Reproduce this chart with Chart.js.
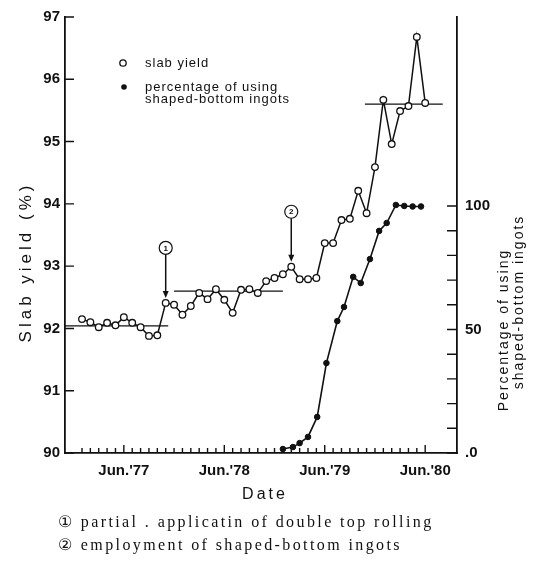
<!DOCTYPE html>
<html><head><meta charset="utf-8">
<script src="https://cdn.jsdelivr.net/npm/chart.js@4"></script>
<style>
html,body{margin:0;padding:0;background:#fff;}
#wrap{position:relative;width:544px;height:568px;overflow:hidden;}
canvas{position:absolute;left:0;top:0;}
.note{position:absolute;left:58px;font-family:'Liberation Serif','DejaVu Serif',serif;font-size:16px;letter-spacing:2.4px;color:#111;white-space:nowrap;}
</style></head><body>
<div id="wrap"><canvas id="c" width="544" height="568"></canvas>
<div class="note" style="top:512px">① partial . applicatin of double top rolling</div>
<div class="note" style="top:535px">② employment of shaped-bottom ingots</div>
</div>
<script>
// months counted from Jan 1977 (0) to Jun 1980 (41)
const monthIdx = [0,1,2,3,4,5,6,7,8,9,10,11,12,13,14,15,16,17,18,19,20,21,22,23,24,25,26,27,28,29,30,31,32,33,34,35,36,37,38,39,40,41];
const slabYield = [92.15,92.10,92.02,92.09,92.05,92.18,92.09,92.02,91.88,91.89,
                   92.41,92.38,92.22,92.36,92.57,92.47,92.63,92.46,92.25,92.62,
                   92.63,92.57,92.76,92.81,92.87,92.99,92.79,92.79,92.81,93.37,
                   93.37,93.74,93.76,94.21,93.85,94.59,95.67,94.96,95.49,95.57,
                   96.68,95.62];
const pctMonth = [24.0,25.2,26.0,27.0,28.1,29.2,30.5,31.3,32.4,33.3,34.4,35.5,36.4,37.5,38.5,39.5,40.5];
const pctShaped = [1.6,2.4,4.0,6.5,14.6,36.4,53.4,59.1,71.3,68.8,78.5,89.9,93.1,100.4,100.0,99.8,99.8];
const avgFrom = [-2.03, 11.0, 33.8];
const avgTo = [10.3, 24.0, 43.1];
const avgLevel = [92.04, 92.60, 95.60];
const junMonths = [5,17,29,41];
const junLabels = ["Jun.'77","Jun.'78","Jun.'79","Jun.'80"];
const yieldTicks = [90,91,92,93,94,95,96,97];
const pctTicks = [0,10,20,30,40,50,60,70,80,90,100];
const pctTickLabels = {0:'.0',50:'50',100:'100'};
const annoIndex = [10,25];
const annoText = ['1','2'];

const INK = '#111';
const tickFont = {family:"'Liberation Sans', Arial, sans-serif", size:15, weight:'bold'};

const datasets = [
  {label:'slab yield', data: monthIdx.map((m,i)=>({x:m,y:slabYield[i]})), yAxisID:'y',
   borderColor:INK, borderWidth:1.5, pointRadius:3.3, pointBackgroundColor:'#fff',
   pointBorderColor:INK, pointBorderWidth:1.3, tension:0, order:1},
  {label:'percentage of using shaped-bottom ingots', data: pctMonth.map((m,i)=>({x:m,y:pctShaped[i]})), yAxisID:'y2',
   borderColor:INK, borderWidth:1.6, pointRadius:2.8, pointBackgroundColor:INK,
   pointBorderColor:INK, pointBorderWidth:1, tension:0, order:1}
];
avgLevel.forEach((lv,i)=>{
  datasets.push({label:'avg'+i, data:[{x:avgFrom[i],y:lv},{x:avgTo[i],y:lv}], yAxisID:'y',
    borderColor:INK, borderWidth:1.3, pointRadius:0, order:3});
});

const decor = {
  id:'decor',
  afterDraw(chart){
    const ctx = chart.ctx, ca = chart.chartArea;
    const sx = chart.scales.x, sy = chart.scales.y, sy2 = chart.scales.y2;
    ctx.save();
    ctx.strokeStyle = INK; ctx.fillStyle = INK; ctx.lineWidth = 1.4;
    // inward ticks
    ctx.beginPath();
    monthIdx.forEach(m=>{
      const px = sx.getPixelForValue(m);
      const len = junMonths.includes(m) ? 8 : 5;
      ctx.moveTo(px, ca.bottom); ctx.lineTo(px, ca.bottom-len);
    });
    yieldTicks.forEach(v=>{
      const py = sy.getPixelForValue(v);
      ctx.moveTo(ca.left, py); ctx.lineTo(ca.left+9, py);
    });
    pctTicks.forEach(v=>{
      const py = sy2.getPixelForValue(v);
      ctx.moveTo(ca.right, py); ctx.lineTo(ca.right-10, py);
    });
    ctx.stroke();

    // axis titles
    ctx.textAlign='center'; ctx.textBaseline='middle';
    ctx.font = "17px 'Liberation Sans', Arial, sans-serif";
    ctx.letterSpacing = '4px';
    ctx.save(); ctx.translate(26,262); ctx.rotate(-Math.PI/2); ctx.fillText('Slab yield (%)',0,0); ctx.restore();
    ctx.font = "16px 'Liberation Sans', Arial, sans-serif";
    ctx.letterSpacing = '3px';
    ctx.fillText('Date', 265, 495);
    ctx.font = "14px 'Liberation Sans', Arial, sans-serif";
    ctx.letterSpacing = '2px';
    ctx.save(); ctx.translate(504,330); ctx.rotate(-Math.PI/2); ctx.fillText('Percentage of using',0,0); ctx.restore();
    ctx.save(); ctx.translate(519,302); ctx.rotate(-Math.PI/2); ctx.fillText('shaped-bottom ingots',0,0); ctx.restore();

    // legend
    ctx.letterSpacing = '1px';
    ctx.textAlign='left';
    ctx.font = "13px 'Liberation Sans', Arial, sans-serif";
    ctx.lineWidth = 1.3;
    ctx.beginPath(); ctx.arc(123,63,3.2,0,Math.PI*2); ctx.fillStyle='#fff'; ctx.fill(); ctx.stroke();
    ctx.fillStyle = INK;
    ctx.fillText('slab yield', 145, 63);
    ctx.beginPath(); ctx.arc(124,87,2.8,0,Math.PI*2); ctx.fill();
    ctx.fillText('percentage of using', 145, 87);
    ctx.fillText('shaped-bottom ingots', 145, 99);

    // annotations
    ctx.letterSpacing = '0px';
    annoIndex.forEach((idx,i)=>{
      const px = sx.getPixelForValue(monthIdx[idx]);
      const py = sy.getPixelForValue(slabYield[idx]);
      const cy = py - 55;
      ctx.lineWidth = 1.2;
      ctx.beginPath(); ctx.arc(px, cy, 6.5, 0, Math.PI*2); ctx.stroke();
      ctx.font = "bold 8px 'Liberation Sans', Arial, sans-serif";
      ctx.textAlign='center';
      ctx.fillText(annoText[i], px, cy+0.5);
      ctx.lineWidth = 1.5;
      ctx.beginPath(); ctx.moveTo(px, cy+6.5); ctx.lineTo(px, py-8); ctx.stroke();
      ctx.beginPath(); ctx.moveTo(px-3, py-12); ctx.lineTo(px+3, py-12); ctx.lineTo(px, py-5); ctx.closePath(); ctx.fill();
    });
    ctx.restore();
  }
};

new Chart(document.getElementById('c'), {
  type:'line',
  data:{datasets},
  options:{
    responsive:false, animation:false, devicePixelRatio:1,
    layout:{padding:{top:17,left:0,right:0,bottom:0}},
    plugins:{legend:{display:false}, tooltip:{enabled:false}},
    scales:{
      x:{type:'linear', position:'bottom', min:-2.03, max:44.8,
        afterBuildTicks:s=>{s.ticks = monthIdx.map(v=>({value:v}));},
        afterFit:s=>{s.height=115;},
        ticks:{autoSkip:false, maxRotation:0, padding:9, color:INK, font:tickFont,
          callback:v=>{const k=junMonths.indexOf(v); return k>=0?junLabels[k]:'';}},
        grid:{drawOnChartArea:false, drawTicks:false},
        border:{display:true, color:INK, width:1.8}},
      y:{type:'linear', position:'left', min:90, max:97,
        afterBuildTicks:s=>{s.ticks = yieldTicks.map(v=>({value:v}));},
        afterFit:s=>{s.width=65;},
        ticks:{padding:5, color:INK, font:tickFont},
        grid:{drawOnChartArea:false, drawTicks:false},
        border:{display:true, color:INK, width:1.8}},
      y2:{type:'linear', position:'right', min:0, max:176.5,
        afterBuildTicks:s=>{s.ticks = pctTicks.map(v=>({value:v}));},
        afterFit:s=>{s.width=87;},
        ticks:{padding:8, color:INK, font:tickFont, callback:v=>pctTickLabels[v]!==undefined?pctTickLabels[v]:''},
        grid:{drawOnChartArea:false, drawTicks:false},
        border:{display:true, color:INK, width:1.8}}
    }
  },
  plugins:[decor]
});
</script>
</body></html>
